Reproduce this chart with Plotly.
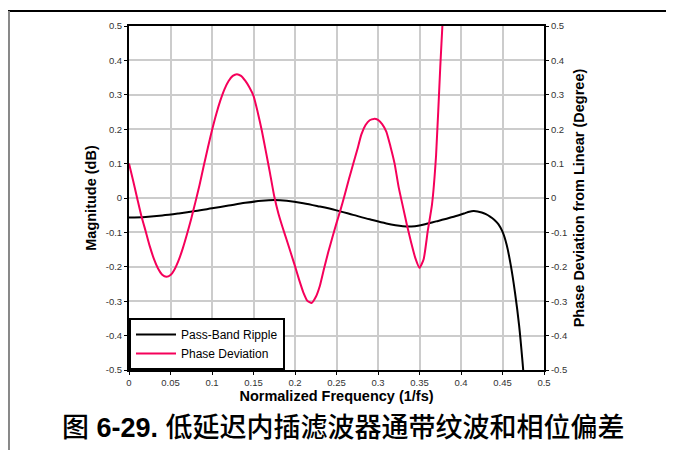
import plotly.graph_objects as go

# Pass-band ripple (magnitude, dB)
ripple_x = [0.000, 0.020, 0.040, 0.060, 0.080, 0.100, 0.120, 0.140, 0.160, 0.175,
            0.190, 0.210, 0.230, 0.250, 0.270, 0.290, 0.310, 0.330, 0.340, 0.350,
            0.360, 0.370, 0.380, 0.390, 0.400, 0.405, 0.410, 0.415, 0.420, 0.425,
            0.430, 0.435, 0.440, 0.445, 0.450, 0.455, 0.460, 0.465, 0.470, 0.4746, 0.477]
ripple_y = [-0.057, -0.055, -0.051, -0.045, -0.038, -0.030, -0.022, -0.014, -0.008, -0.006,
            -0.008, -0.015, -0.025, -0.036, -0.049, -0.062, -0.074, -0.082, -0.083, -0.080,
            -0.074, -0.068, -0.062, -0.055, -0.048, -0.044, -0.040, -0.038, -0.039, -0.042,
            -0.047, -0.054, -0.063, -0.076, -0.098, -0.136, -0.196, -0.274, -0.370, -0.490, -0.560]

# Phase deviation from linear (degree), read every 0.005
phase_x = [0.000, 0.005, 0.010, 0.015, 0.020, 0.025, 0.030, 0.035, 0.040, 0.045,
           0.050, 0.055, 0.060, 0.065, 0.070, 0.075, 0.080, 0.085, 0.090, 0.095,
           0.100, 0.105, 0.110, 0.115, 0.120, 0.125, 0.130, 0.135, 0.140, 0.145,
           0.150, 0.155, 0.160, 0.165, 0.170, 0.175, 0.180, 0.185, 0.190, 0.195,
           0.200, 0.205, 0.210, 0.215, 0.220, 0.225, 0.230, 0.235, 0.240, 0.245,
           0.250, 0.255, 0.260, 0.265, 0.270, 0.275, 0.280, 0.285, 0.290, 0.295,
           0.300, 0.305, 0.310, 0.315, 0.320, 0.325, 0.330, 0.335, 0.340, 0.345,
           0.350, 0.355, 0.360, 0.365, 0.370, 0.375, 0.378, 0.380]
phase_y = [0.100, 0.050, -0.002, -0.053, -0.096, -0.140, -0.177, -0.205, -0.223, -0.229,
           -0.224, -0.207, -0.180, -0.145, -0.104, -0.060, -0.012, 0.038, 0.093, 0.146,
           0.197, 0.243, 0.283, 0.316, 0.340, 0.355, 0.360, 0.355, 0.341, 0.322,
           0.297, 0.250, 0.196, 0.134, 0.071, 0.005, -0.045, -0.085, -0.122, -0.160,
           -0.198, -0.238, -0.274, -0.299, -0.305, -0.288, -0.255, -0.205, -0.158, -0.115,
           -0.073, -0.033, 0.010, 0.055, 0.098, 0.140, 0.185, 0.212, 0.226, 0.230,
           0.227, 0.215, 0.193, 0.150, 0.100, 0.030, -0.025, -0.080, -0.130, -0.175,
           -0.203, -0.178, -0.095, -0.020, 0.125, 0.380, 0.520, 0.600]

x_ticks = [0, 0.05, 0.1, 0.15, 0.2, 0.25, 0.3, 0.35, 0.4, 0.45, 0.5]
x_tick_labels = ["0", "0.05", "0.1", "0.15", "0.2", "0.25", "0.3", "0.35", "0.4", "0.45", "0.5"]
y_ticks = [-0.5, -0.4, -0.3, -0.2, -0.1, 0, 0.1, 0.2, 0.3, 0.4, 0.5]
y_tick_labels = ["-0.5", "-0.4", "-0.3", "-0.2", "-0.1", "0", "0.1", "0.2", "0.3", "0.4", "0.5"]

caption = "图 <b>6-29.</b> 低延迟内插滤波器通带纹波和相位偏差"

tick_font = dict(family="Liberation Sans, Arial, sans-serif", size=9.5, color="#333333")
title_font = dict(family="Liberation Sans, Arial, sans-serif", size=14.5, color="#000000")

fig = go.Figure()
fig.add_trace(go.Scatter(x=ripple_x, y=ripple_y, mode="lines", name="Pass-Band Ripple",
                         line=dict(color="#000000", width=2, shape="spline", smoothing=1.0)))
fig.add_trace(go.Scatter(x=phase_x, y=phase_y, mode="lines", name="Phase Deviation",
                         line=dict(color="#f5005a", width=2, shape="spline", smoothing=0.5),
                         yaxis="y2"))

axis_common = dict(showline=True, linecolor="#000000", linewidth=2, showgrid=True,
                   gridcolor="#cccccc", gridwidth=1.5, ticks="outside", ticklen=3,
                   tickcolor="#000000", tickwidth=1, tickfont=tick_font, zeroline=False)

fig.update_layout(
    width=666, height=442,
    margin=dict(l=121, r=130, t=16, b=80),
    paper_bgcolor="white", plot_bgcolor="white",
    showlegend=True,
    legend=dict(x=0, y=0, xanchor="left", yanchor="bottom", bgcolor="white",
                bordercolor="#000000", borderwidth=2,
                font=dict(family="Liberation Sans, Arial, sans-serif", size=12, color="#000000"),
                tracegroupgap=0, itemwidth=40),
    xaxis=dict(range=[0, 0.5], tickvals=x_ticks, ticktext=x_tick_labels, mirror=True,
               title=dict(text="<b>Normalized Frequency (1/fs)</b>", font=title_font, standoff=0),
               **axis_common),
    yaxis=dict(range=[-0.5, 0.5], tickvals=y_ticks, ticktext=y_tick_labels,
               title=dict(text="<b>Magnitude (dB)</b>", font=title_font, standoff=6),
               **axis_common),
    yaxis2=dict(range=[-0.5, 0.5], tickvals=y_ticks, ticktext=y_tick_labels, overlaying="y",
                side="right", showgrid=False, showline=True, linecolor="#000000", linewidth=2,
                ticks="outside", ticklen=3, tickcolor="#000000", tickfont=tick_font,
                zeroline=False,
                title=dict(text="<b>Phase Deviation from Linear (Degree)</b>", font=title_font,
                           standoff=8)),
    shapes=[
        dict(type="line", xref="paper", yref="paper", x0=-0.30, x1=1.34, y0=1.0434, y1=1.0434,
             line=dict(color="#000000", width=2)),
        dict(type="line", xref="paper", yref="paper", x0=-0.2892, x1=-0.2892, y0=1.0434, y1=-0.3,
             line=dict(color="#888888", width=2)),
    ],
    annotations=[
        dict(text=caption, xref="paper", yref="paper", x=0.5157, y=-0.1676, xanchor="center",
             yanchor="middle", showarrow=False,
             font=dict(family="Liberation Sans, Noto Sans CJK SC, sans-serif", size=27,
                       color="#000000", weight=500)),
    ],
)

fig.write_html("out.html")
